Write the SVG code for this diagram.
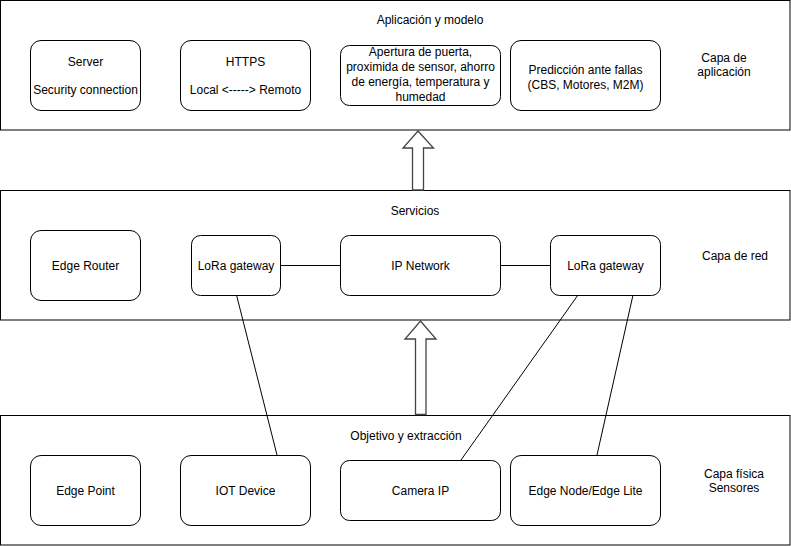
<svg xmlns="http://www.w3.org/2000/svg" width="791" height="546" viewBox="0 0 791 546">
<style>
.layer{fill:#fff;stroke:#000;stroke-width:1}
.node{fill:#fff;stroke:#000;stroke-width:1}
.t{font-family:"Liberation Sans",Arial,sans-serif;font-size:12px;fill:#000;text-anchor:middle}
.edge{stroke:#000;stroke-width:1;fill:none}
.barrow{fill:#fff;stroke:#444;stroke-width:1.3;stroke-linejoin:miter}
</style>
<rect width="791" height="546" fill="#fff"/>
<g id="layer-app">
<rect class="layer" x="0.5" y="0.5" width="789.5" height="129.5"/>
<text class="t" x="430" y="24">Aplicación y modelo</text>
<text class="t" x="724" y="62">Capa de</text>
<text class="t" x="724" y="76">aplicación</text>
</g>
<g id="layer-red">
<rect class="layer" x="0.5" y="190.5" width="789.5" height="129.5"/>
<text class="t" x="415" y="215">Servicios</text>
<text class="t" x="735" y="260">Capa de red</text>
</g>
<g id="layer-fisica">
<rect class="layer" x="0.5" y="415.5" width="789.5" height="129.5"/>
<text class="t" x="406" y="440">Objetivo y extracción</text>
<text class="t" x="734" y="478">Capa física</text>
<text class="t" x="734" y="492">Sensores</text>
</g>
<g id="connectors">
<line class="edge" x1="280" y1="265.5" x2="340" y2="265.5"/>
<line class="edge" x1="500" y1="265.5" x2="550" y2="265.5"/>
<line class="edge" x1="236.5" y1="295" x2="277" y2="455"/>
<line class="edge" x1="578" y1="295" x2="461" y2="460"/>
<line class="edge" x1="633" y1="295" x2="597" y2="455"/>
<path class="barrow" d="M418,131 L433.5,148 L423.5,148 L423.5,190 L412.5,190 L412.5,148 L403,148 Z"/>
<path class="barrow" d="M420.5,321 L436,339 L426,339 L426,414.5 L415.5,414.5 L415.5,339 L405,339 Z"/>
</g>
<g id="server">
<rect class="node" x="30.5" y="40.5" width="110" height="70" rx="10.5"/>
<text class="t" x="85.5" y="66">Server</text>
<text class="t" x="85.5" y="94">Security connection</text>
</g>
<g id="https">
<rect class="node" x="180.5" y="40.5" width="130" height="70" rx="10.5"/>
<text class="t" x="245.5" y="66">HTTPS</text>
<text class="t" x="245.5" y="94">Local &lt;-----&gt; Remoto</text>
</g>
<g id="apertura">
<rect class="node" x="340.5" y="45.5" width="160" height="60" rx="9"/>
<text class="t" x="420.5" y="56">Apertura de puerta,</text>
<text class="t" x="420.5" y="71">proximida de sensor, ahorro</text>
<text class="t" x="420.5" y="86">de energía, temperatura y</text>
<text class="t" x="420.5" y="101">humedad</text>
</g>
<g id="prediccion">
<rect class="node" x="510.5" y="40.5" width="150" height="70" rx="10.5"/>
<text class="t" x="585.5" y="74">Predicción ante fallas</text>
<text class="t" x="585.5" y="89">(CBS, Motores, M2M)</text>
</g>
<g id="edge-router">
<rect class="node" x="30.5" y="230.5" width="110" height="70" rx="10.5"/>
<text class="t" x="85.5" y="270">Edge Router</text>
</g>
<g id="lora-left">
<rect class="node" x="191.5" y="235.5" width="89" height="60" rx="9"/>
<text class="t" x="236" y="270">LoRa gateway</text>
</g>
<g id="ip-network">
<rect class="node" x="340.5" y="235.5" width="160" height="60" rx="9"/>
<text class="t" x="420.5" y="270">IP Network</text>
</g>
<g id="lora-right">
<rect class="node" x="550.5" y="235.5" width="110" height="60" rx="9"/>
<text class="t" x="605.5" y="270">LoRa gateway</text>
</g>
<g id="edge-point">
<rect class="node" x="30.5" y="455.5" width="110" height="70" rx="10.5"/>
<text class="t" x="85.5" y="495">Edge Point</text>
</g>
<g id="iot-device">
<rect class="node" x="180.5" y="455.5" width="130" height="70" rx="10.5"/>
<text class="t" x="245.5" y="495">IOT Device</text>
</g>
<g id="camera-ip">
<rect class="node" x="340.5" y="460.5" width="160" height="60" rx="9"/>
<text class="t" x="420.5" y="495">Camera IP</text>
</g>
<g id="edge-node">
<rect class="node" x="510.5" y="455.5" width="150" height="70" rx="10.5"/>
<text class="t" x="585.5" y="495">Edge Node/Edge Lite</text>
</g>
</svg>
